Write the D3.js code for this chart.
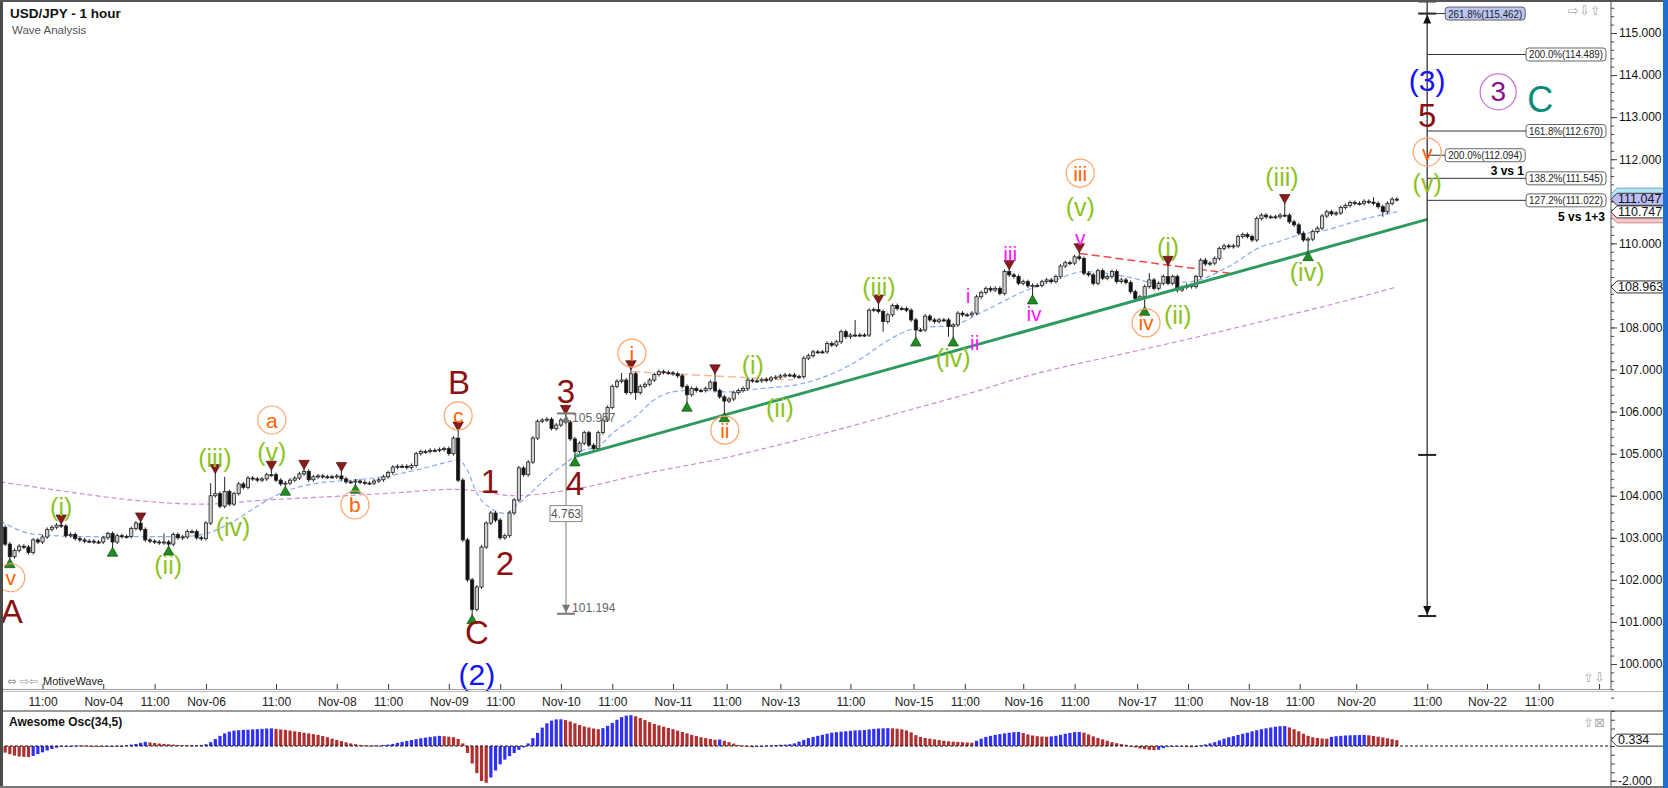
<!DOCTYPE html>
<html>
<head>
<meta charset="utf-8">
<script src="https://cdn.jsdelivr.net/npm/d3@7"></script>
<style>
html, body { margin: 0; padding: 0; background: #fff; overflow: hidden; }
svg { display: block; font-family: Arial, "Liberation Sans", sans-serif; }
</style>
</head>
<body>
<div id="chart"></div>
<script>
// hourly closes, bar 0 = Nov-03 02:00 (open of bar i = close of bar i-1)
const firstOpen = 103.35;
const closes = [
  103.25,102.85,102.55,102.70,102.80,102.78,102.65,102.95,102.90,103.02,
  103.20,103.25,103.30,103.28,103.05,103.08,102.98,102.95,102.92,102.92,
  102.90,102.90,103.00,103.10,102.90,103.05,103.03,103.03,103.22,103.35,
  103.20,102.95,102.92,102.90,102.88,102.90,102.85,103.08,103.00,103.02,
  103.15,103.15,103.00,102.98,103.35,104.00,104.05,103.75,104.10,103.80,
  104.05,104.28,104.20,104.42,104.40,104.37,104.40,104.50,104.50,104.37,
  104.28,104.30,104.37,104.42,104.52,104.58,104.38,104.45,104.47,104.45,
  104.45,104.45,104.47,104.40,104.33,104.33,104.35,104.32,104.30,104.30,
  104.35,104.38,104.45,104.55,104.68,104.70,104.70,104.67,104.72,105.00,
  105.05,105.05,105.08,105.08,105.10,105.12,105.00,105.37,104.37,102.95,
  102.00,101.30,101.83,102.78,103.35,103.59,103.42,103.00,103.05,103.59,
  103.90,104.66,104.50,104.80,105.37,105.77,105.80,105.82,105.60,105.68,
  105.80,105.75,105.35,105.05,105.25,105.50,105.20,105.12,105.50,105.80,
  106.10,106.60,106.72,106.75,106.45,106.90,106.45,106.60,106.65,106.75,
  106.88,106.95,106.93,106.92,106.90,106.85,106.60,106.40,106.55,106.50,
  106.50,106.55,106.70,106.50,106.35,106.25,106.30,106.45,106.50,106.55,
  106.75,106.73,106.73,106.76,106.75,106.80,106.82,106.85,106.87,106.87,
  106.83,106.83,107.27,107.33,107.42,107.42,107.42,107.62,107.58,107.66,
  107.90,107.78,107.82,107.82,107.82,107.82,108.41,108.43,108.38,108.14,
  108.30,108.52,108.45,108.45,108.41,108.18,107.94,107.94,108.27,108.18,
  108.14,108.18,108.18,108.02,108.06,108.34,108.30,108.30,108.34,108.73,
  108.83,108.93,108.89,108.93,108.81,109.33,109.25,109.21,109.05,109.09,
  108.99,109.00,109.00,109.09,109.13,109.09,109.21,109.46,109.54,109.53,
  109.68,109.64,109.29,109.25,109.05,109.35,109.17,109.21,109.33,109.09,
  109.13,109.07,108.85,108.69,108.73,108.97,109.13,108.93,109.05,109.21,
  109.05,109.21,108.89,108.95,109.00,108.97,109.21,109.60,109.51,109.53,
  109.64,109.88,109.94,109.92,109.94,110.16,110.21,110.16,110.08,110.59,
  110.67,110.63,110.63,110.63,110.67,110.67,110.51,110.44,110.24,110.08,
  110.10,110.28,110.36,110.65,110.75,110.70,110.72,110.85,110.90,110.97,
  110.95,110.95,111.00,110.98,110.95,110.87,110.75,110.95,111.05,111.047
];

// swing highs / lows marked with triangles [bar, price]
const peakMarks = [[13,103.35],[30,103.40],[46,104.55],[58,104.63],[65,104.65],[73,104.60],
  [98,105.56],[121,105.957],[135,107.02],[153,106.92],[188,108.58],[216,109.40],[231,109.80],
  [250,109.50],[275,110.97]];
const troughMarks = [[2,102.48],[24,102.75],[36,102.78],[61,104.20],[76,104.25],[101,101.15],
  [123,104.90],[147,106.20],[155,105.95],[196,107.75],[204,107.75],[221,108.75],[245,108.48],
  [280,109.78]];
// other long wicks [bar, price]
const extraHighs = [[35,103.10],[45,104.30],[48,104.45],[133,106.92],[183,108.18],[246,109.29],[294,111.10]];
const extraLows = [[136,106.28],[189,107.90],[203,107.78],[252,108.83],[296,110.63]];

// moving averages read at [bar, price]
const fastMA = [[0,103.40],[7,103.09],[18,103.03],[28,103.03],[39,103.03],[44,103.10],[50,103.40],
  [55,103.75],[60,104.06],[68,104.30],[75,104.37],[82,104.45],[89,104.61],[95,104.78],[98,104.85],
  [100,104.60],[102,104.06],[105,103.70],[108,103.58],[111,103.82],[115,104.22],[118,104.53],
  [121,104.77],[124,105.05],[128,105.17],[131,105.48],[136,105.88],[140,106.28],[144,106.47],
  [149,106.51],[156,106.47],[163,106.55],[171,106.65],[177,106.85],[185,107.31],[189,107.62],
  [196,107.98],[204,108.06],[211,108.41],[219,108.85],[226,109.13],[232,109.33],[241,109.21],
  [248,109.05],[255,109.09],[263,109.45],[270,109.92],[274,110.05],[278,110.20],[284,110.32],
  [291,110.55],[299,110.747]];
const slowMA = [[0,104.33],[14,104.10],[28,103.90],[43,103.80],[57,103.90],[71,103.98],[86,104.08],
  [96,104.15],[100,104.14],[110,104.00],[124,104.18],[138,104.53],[153,104.85],[171,105.33],
  [182,105.65],[195,106.05],[208,106.45],[218,106.79],[241,107.39],[255,107.74],[270,108.14],
  [283,108.49],[299,108.963]];

// trend / channel lines [bar, price]
const trendLine = [[123,104.93],[305.5,110.57]];
const orangeDash = [[135.2,106.95],[169.7,106.75]];
const redDash = [[231.1,109.76],[263.2,109.29]];

// Awesome Oscillator (34,5), one value per bar
const ao = [
  -0.30,-0.38,-0.47,-0.55,-0.60,-0.62,-0.63,-0.57,-0.46,-0.36,
  -0.26,-0.17,-0.10,-0.05,-0.02,0.00,0.02,0.03,0.02,0.01,
  -0.02,-0.03,-0.04,-0.03,-0.02,-0.03,0.00,0.04,0.08,0.12,
  0.18,0.24,0.20,0.17,0.14,0.12,0.10,0.08,0.06,0.05,
  0.04,0.05,0.04,0.06,0.10,0.22,0.40,0.58,0.72,0.82,
  0.88,0.90,0.92,0.93,0.95,0.96,0.98,1.00,1.01,0.98,
  0.95,0.92,0.88,0.84,0.80,0.76,0.72,0.68,0.63,0.57,
  0.50,0.42,0.35,0.28,0.21,0.15,0.10,0.06,0.04,0.02,
  0.03,0.02,0.05,0.08,0.12,0.18,0.24,0.29,0.34,0.39,
  0.44,0.48,0.52,0.55,0.58,0.56,0.53,0.50,0.40,0.15,
  -0.40,-1.00,-1.55,-2.00,-2.10,-1.80,-1.40,-1.05,-0.78,-0.58,
  -0.40,-0.22,-0.08,0.15,0.45,0.75,1.05,1.30,1.45,1.52,
  1.53,1.48,1.40,1.30,1.20,1.12,1.06,1.00,0.96,1.02,
  1.15,1.32,1.50,1.65,1.74,1.76,1.70,1.60,1.48,1.36,
  1.26,1.18,1.10,1.03,0.96,0.88,0.80,0.72,0.64,0.57,
  0.50,0.45,0.40,0.36,0.37,0.30,0.22,0.14,0.06,0.02,
  -0.05,-0.07,-0.04,-0.01,0.02,0.03,0.05,0.07,0.08,0.10,
  0.15,0.25,0.35,0.45,0.52,0.58,0.64,0.70,0.76,0.79,
  0.82,0.84,0.87,0.89,0.90,0.91,0.95,0.98,1.00,1.01,
  1.02,1.01,0.99,0.95,0.89,0.78,0.62,0.52,0.46,0.42,
  0.38,0.34,0.30,0.27,0.25,0.23,0.22,0.20,0.19,0.30,
  0.42,0.52,0.58,0.64,0.68,0.72,0.76,0.79,0.80,0.74,
  0.66,0.60,0.56,0.54,0.53,0.55,0.58,0.64,0.70,0.75,
  0.79,0.80,0.76,0.66,0.55,0.46,0.38,0.30,0.22,0.16,
  0.11,0.07,0.00,-0.08,-0.14,-0.18,-0.22,-0.24,-0.21,-0.12,
  -0.05,-0.02,0.00,-0.03,-0.06,-0.07,0.00,0.04,0.09,0.15,
  0.22,0.32,0.42,0.50,0.56,0.63,0.70,0.76,0.84,0.90,
  0.96,1.01,1.06,1.10,1.13,1.14,1.06,0.96,0.84,0.70,
  0.58,0.50,0.46,0.43,0.42,0.52,0.56,0.58,0.60,0.61,
  0.62,0.625,0.63,0.61,0.57,0.53,0.49,0.44,0.39,0.334
];

// time axis
const tickBars = [9,22,33,44,59,72,83,96,107,120,131,144,155.5,167,182,195.5,206.5,219,230,243.4,254.3,267.3,278.2,290.3,305.5,318.3,329.4,342.3];
const tickLabels = ["11:00","Nov-04","11:00","Nov-06","11:00","Nov-08","11:00","Nov-09","11:00","Nov-10",
  "11:00","Nov-11","11:00","Nov-13","11:00","Nov-15","11:00","Nov-16","11:00","Nov-17","11:00","Nov-18",
  "11:00","Nov-20","11:00","Nov-22","11:00",""];

// wave labels [text, bar, price]
const maroonLabels = [["A",2.4,101.24],["B",98.2,106.68],["C",102,100.74],["1",104.8,104.33],
  ["2",108,102.40],["3",121.1,106.47],["4",123,104.30],["5",305.5,113.05]];
const blueLabels = [["(2)",102,99.74],["(3)",305.5,113.88]];
const greenLabels = [["(i)",13,103.73],["(ii)",35.9,102.35],["(iii)",45.9,104.90],["(iv)",49.8,103.26],
  ["(v)",58.1,105.04],["(i)",161.1,107.11],["(ii)",166.9,106.09],["(iii)",188.1,108.96],
  ["(iv)",204,107.27],["(v)",231.2,110.86],["(i)",250,109.91],["(ii)",252.1,108.30],
  ["(iii)",274.4,111.58],["(iv)",279.8,109.32],["(v)",305.5,111.43]];
const orangeLabels = [["v",2.2,102.05],["a",58.1,105.80],["b",75.9,103.78],["c",98,105.90],
  ["i",135.2,107.39],["ii",155.1,105.56],["iii",231.2,111.67],["iv",245.3,108.11],["v",305.5,112.17]];
const magentaLabels = [["i",207.2,108.77],["ii",208.6,107.65],["iii",216.2,109.77],["iv",221.3,108.34],["v",231.2,110.15]];
const purpleLabels = [["3",320.7,113.60]];
const tealLabels = [["C",329.7,113.41]];

// fibonacci projection
const fibBar = 305.5;
const fibLevels = [115.462,114.489,112.670,112.094,111.545,111.022];
const fibPcts = ["261.8%","200.0%","161.8%","200.0%","138.2%","127.2%"];
const fibShort = [true,false,false,true,false,false];
const fibTop = 115.75, fibMid = 104.97, fibBottom = 101.14;

// wave 1 measurement
const measureBar = 121.1;
const measureTop = 105.957, measureBottom = 101.194, measureSize = "4.763";

// right axis price flags
const lastPrice = 111.047, fastLast = 110.747, slowLast = 108.963;
const barHigh = 111.17, barLow = 110.63;

// ---------------------------------------------------------------
const W = 1668, H = 788;
const axisX = 1611, mainBottom = 689, oscTop = 712;

const x = d3.scaleLinear().domain([0, 345]).range([0.5, 0.5 + 345 * 4.67]);
const y = d3.scaleLinear().domain([100, 115]).range([664, 33]);
const yo = d3.scaleLinear().domain([-2, 0]).range([781, 746]);
const fmt = d3.format(".3f");

const svg = d3.select("#chart").append("svg")
    .attr("width", W).attr("height", H);

svg.append("rect").attr("width", W).attr("height", H).attr("fill", "#fff");

svg.append("clipPath").attr("id", "mainClip")
  .append("rect").attr("x", 0).attr("y", 0).attr("width", axisX).attr("height", mainBottom);

const main = svg.append("g").attr("clip-path", "url(#mainClip)");

// moving averages
const line = d3.line().x(d => x(d[0])).y(d => y(d[1])).curve(d3.curveMonotoneX);
main.append("path").attr("d", line(slowMA)).attr("fill", "none")
    .attr("stroke", "#d08ad0").attr("stroke-width", 1.2).attr("stroke-dasharray", "5,3");
main.append("path").attr("d", line(fastMA)).attr("fill", "none")
    .attr("stroke", "#88a8f4").attr("stroke-width", 1.2).attr("stroke-dasharray", "5,3");

// dashed helper lines
const straight = d3.line().x(d => x(d[0])).y(d => y(d[1]));
main.append("path").attr("d", straight(orangeDash)).attr("fill", "none")
    .attr("stroke", "#f7b896").attr("stroke-width", 1.5).attr("stroke-dasharray", "8,4");
main.append("path").attr("d", straight(redDash)).attr("fill", "none")
    .attr("stroke", "#f04848").attr("stroke-width", 1.5).attr("stroke-dasharray", "8,4");

// candles
const hiMap = new Map(peakMarks.concat(extraHighs));
const loMap = new Map(troughMarks.concat(extraLows));
const candles = closes.map((c, i) => ({ i, o: i === 0 ? firstOpen : closes[i - 1], c }));

const cg = main.append("g");
cg.selectAll("line.wick").data(candles).join("line")
    .attr("class", "wick")
    .attr("x1", d => x(d.i)).attr("x2", d => x(d.i))
    .attr("y1", d => hiMap.has(d.i) ? y(hiMap.get(d.i)) : y(Math.max(d.o, d.c)) - 2)
    .attr("y2", d => loMap.has(d.i) ? y(loMap.get(d.i)) : y(Math.min(d.o, d.c)) + 2)
    .attr("stroke", "#222").attr("stroke-width", 1);
cg.selectAll("rect.body").data(candles).join("rect")
    .attr("class", "body")
    .attr("x", d => x(d.i) - 1.6)
    .attr("width", 3.2)
    .attr("y", d => y(Math.max(d.o, d.c)))
    .attr("height", d => Math.max(1, Math.abs(y(d.o) - y(d.c))))
    .attr("fill", d => d.c > d.o ? "#cfcfcf" : "#111")
    .attr("stroke", "#222").attr("stroke-width", 0.8);

// trend line
main.append("path").attr("d", straight(trendLine)).attr("fill", "none")
    .attr("stroke", "#2f9a60").attr("stroke-width", 3);

// swing markers
const tri = d3.symbol().type(d3.symbolTriangle).size(48);
main.selectAll("path.peak").data(peakMarks).join("path")
    .attr("class", "peak").attr("d", tri)
    .attr("transform", d => `translate(${x(d[0])},${y(d[1]) - 5}) rotate(180)`)
    .attr("fill", "#8c1a1a").attr("stroke", "#3a0a0a").attr("stroke-width", 0.6);
main.selectAll("path.trough").data(troughMarks).join("path")
    .attr("class", "trough").attr("d", tri)
    .attr("transform", d => `translate(${x(d[0])},${y(d[1]) + 5})`)
    .attr("fill", "#1f8c1f").attr("stroke", "#0a3a0a").attr("stroke-width", 0.6);

// wave 1 measurement tool
const mx = x(measureBar);
const mg = main.append("g").attr("stroke", "#777").attr("fill", "#777");
mg.append("line").attr("x1", mx).attr("x2", mx).attr("y1", y(measureTop)).attr("y2", y(measureBottom));
mg.append("line").attr("x1", mx - 9).attr("x2", mx + 9).attr("y1", y(measureTop)).attr("y2", y(measureTop)).attr("stroke-width", 2);
mg.append("line").attr("x1", mx - 9).attr("x2", mx + 9).attr("y1", y(measureBottom)).attr("y2", y(measureBottom)).attr("stroke-width", 2);
mg.append("path").attr("d", `M${mx},${y(measureTop) + 1} l-4,8 h8 z`).attr("stroke", "none");
mg.append("path").attr("d", `M${mx},${y(measureBottom) - 1} l-4,-8 h8 z`).attr("stroke", "none");
main.append("text").attr("x", mx + 6).attr("y", y(measureTop) + 9)
    .attr("font-size", 12).attr("fill", "#666").text(fmt(measureTop));
main.append("text").attr("x", mx + 6).attr("y", y(measureBottom) - 2)
    .attr("font-size", 12).attr("fill", "#666").text(fmt(measureBottom));
const midM = (measureTop + measureBottom) / 2;
main.append("rect").attr("x", mx - 16).attr("y", y(midM) - 8).attr("width", 32).attr("height", 16)
    .attr("fill", "#fff").attr("stroke", "#888");
main.append("text").attr("x", mx).attr("y", y(midM)).attr("text-anchor", "middle")
    .attr("dominant-baseline", "central").attr("font-size", 12).attr("fill", "#555").text(measureSize);

// fibonacci projection
const fx = x(fibBar);
const fg = svg.append("g");
fg.append("line").attr("x1", fx).attr("x2", fx).attr("y1", y(fibTop)).attr("y2", y(fibBottom))
    .attr("stroke", "#333").attr("stroke-width", 1.3);
[fibTop, fibLevels[0], fibMid, fibBottom].forEach(v => {
  fg.append("line").attr("x1", fx - 9).attr("x2", fx + 9).attr("y1", y(v)).attr("y2", y(v))
      .attr("stroke", "#222").attr("stroke-width", 2);
});
fg.append("path").attr("d", `M${fx},${y(fibLevels[0]) + 1} l-4,9 h8 z`).attr("fill", "#111");
fg.append("path").attr("d", `M${fx},${y(fibBottom) - 1} l-4,-9 h8 z`).attr("fill", "#111");
fibLevels.forEach((v, k) => {
  const bx = fibShort[k] ? fx + 18 : 1526;
  fg.append("line").attr("x1", fx).attr("x2", bx).attr("y1", y(v)).attr("y2", y(v))
      .attr("stroke", "#333").attr("stroke-width", 1);
  fg.append("rect").attr("x", bx).attr("y", y(v) - 6.5).attr("width", 80).attr("height", 13)
      .attr("rx", 3).attr("fill", k === 0 ? "#bac5f2" : "#fff").attr("stroke", "#666");
  fg.append("text").attr("x", bx + 40).attr("y", y(v)).attr("text-anchor", "middle")
      .attr("dominant-baseline", "central").attr("font-size", 11).attr("fill", "#222")
      .attr("textLength", 74).attr("lengthAdjust", "spacingAndGlyphs")
      .text(`${fibPcts[k]}(${fmt(v)})`);
});
fg.append("text").attr("x", 1524).attr("y", y(fibLevels[4]) - 3).attr("text-anchor", "end")
    .attr("font-size", 12).attr("font-weight", "bold").text("3 vs 1");
fg.append("text").attr("x", 1605).attr("y", y(fibLevels[5]) + 21).attr("text-anchor", "end")
    .attr("font-size", 12).attr("font-weight", "bold").text("5 vs 1+3");

// wave labels
const lg = svg.append("g").attr("text-anchor", "middle").attr("dominant-baseline", "central");
function labels(arr, color, size) {
  arr.forEach(d => {
    lg.append("text").attr("x", x(d[1])).attr("y", y(d[2]))
        .attr("fill", color).attr("font-size", size).text(d[0]);
  });
}
orangeLabels.forEach(d => {
  lg.append("circle").attr("cx", x(d[1])).attr("cy", y(d[2])).attr("r", 14)
      .attr("fill", "none").attr("stroke", "#ffa366").attr("stroke-width", 1.2);
});
purpleLabels.forEach(d => {
  lg.append("circle").attr("cx", x(d[1])).attr("cy", y(d[2])).attr("r", 18)
      .attr("fill", "none").attr("stroke", "#cf78cf").attr("stroke-width", 1.3);
});
labels(maroonLabels, "#8b1010", 33);
labels(blueLabels, "#1414f0", 30);
labels(greenLabels, "#8cc21c", 25);
labels(orangeLabels, "#ff6200", 21);
labels(magentaLabels, "#ff14ff", 21);
labels(purpleLabels, "#8b108b", 28);
labels(tealLabels, "#0a8a7a", 36);

// right price axis; labels that sit under a price flag are not shown
const flagged = [lastPrice, fastLast, slowLast];
svg.append("line").attr("x1", axisX).attr("x2", axisX).attr("y1", 0).attr("y2", mainBottom + 1)
    .attr("stroke", "#555");
const yAxis = d3.axisRight(y).tickValues(d3.range(100, 116, 1)).tickSize(6).tickPadding(2)
    .tickFormat(d => flagged.some(f => Math.abs(y(f) - y(d)) < 10) ? "" : fmt(d));
const ya = svg.append("g").attr("transform", `translate(${axisX},0)`).call(yAxis);
ya.select(".domain").remove();
ya.selectAll("text").attr("font-size", 12).attr("font-family", "Arial, 'Liberation Sans', sans-serif").attr("fill", "#111");
ya.selectAll("line").attr("stroke", "#444");
const yMinor = d3.axisRight(y).tickValues(d3.range(99.2, 115.9, 0.2)).tickSize(3).tickFormat("");
const ym = svg.append("g").attr("transform", `translate(${axisX},0)`).call(yMinor);
ym.select(".domain").remove();
ym.selectAll("line").attr("stroke", "#444");

function flag(v, fill, scale, stroke, withText) {
  const yc = scale(v);
  const g = svg.append("g");
  g.append("path").attr("d", `M${axisX},${yc} L${axisX + 6},${yc - 6} H${1665} V${yc + 6} H${axisX + 6} Z`)
      .attr("fill", fill).attr("stroke", stroke || "#333").attr("stroke-width", 1);
  if (withText !== false) {
    g.append("text").attr("x", axisX + 7).attr("y", yc).attr("dominant-baseline", "central")
        .attr("font-size", 12.5).attr("fill", "#111").text(fmt(v));
  }
}
// high / low flags peek out from behind the price flags
flag(barHigh, "#b6e6f6", y, "#7ab", false);
flag(barLow, "#f7c6c6", y, "#c88", false);
flag(slowLast, "#fff", y);
flag(fastLast, "#fff", y);
flag(lastPrice, "#bcbcf6", y);

// time axis
svg.append("line").attr("x1", 0).attr("x2", axisX).attr("y1", mainBottom + 0.5).attr("y2", mainBottom + 0.5)
    .attr("stroke", "#999");
svg.append("line").attr("x1", 0).attr("x2", W).attr("y1", mainBottom + 2.5).attr("y2", mainBottom + 2.5)
    .attr("stroke", "#bbb");
const xAxis = d3.axisBottom(x).tickValues(tickBars).tickSizeInner(-5).tickSizeOuter(0).tickPadding(8)
    .tickFormat((d, i) => tickLabels[i]);
const xa = svg.append("g").attr("transform", `translate(0,${mainBottom})`).call(xAxis);
xa.select(".domain").remove();
xa.selectAll("line").attr("stroke", "#333");
xa.selectAll("text").attr("font-size", 12).attr("font-family", "Arial, 'Liberation Sans', sans-serif").attr("fill", "#222");

// panel separator
svg.append("rect").attr("x", 0).attr("y", oscTop - 2).attr("width", W).attr("height", 2).attr("fill", "#9a9a9a");

// oscillator
const og = svg.append("g");
og.selectAll("rect").data(ao).join("rect")
    .attr("x", (d, i) => x(i) - 1.6).attr("width", 3.2)
    .attr("y", d => Math.min(yo(0), yo(d)))
    .attr("height", d => Math.max(0.8, Math.abs(yo(d) - yo(0))))
    .attr("fill", (d, i) => i > 0 && d > ao[i - 1] ? "#2f2ff5" : "#b03030");
og.append("line").attr("x1", 0).attr("x2", axisX).attr("y1", yo(0)).attr("y2", yo(0))
    .attr("stroke", "#111").attr("stroke-dasharray", "3,2");
svg.append("line").attr("x1", axisX).attr("x2", axisX).attr("y1", oscTop).attr("y2", H)
    .attr("stroke", "#555");
const oAxis = d3.axisRight(yo).tickValues(d3.range(-2, 2.1, 0.5)).tickSize(4).tickFormat("");
const oa = svg.append("g").attr("transform", `translate(${axisX},0)`).call(oAxis);
oa.select(".domain").remove();
oa.selectAll("line").attr("stroke", "#444");
svg.append("line").attr("x1", axisX).attr("x2", axisX + 6).attr("y1", yo(-2)).attr("y2", yo(-2)).attr("stroke", "#444");
svg.append("text").attr("x", axisX + 7).attr("y", yo(-2)).attr("dominant-baseline", "central")
    .attr("font-size", 12).attr("fill", "#111").text("-2.000");
flag(ao[ao.length - 1], "#fff", yo);
svg.append("text").attr("x", 9).attr("y", 726).attr("font-size", 12).attr("font-weight", "bold")
    .attr("fill", "#111").text("Awesome Osc(34,5)");

// titles and small chrome
svg.append("text").attr("x", 10).attr("y", 18).attr("font-size", 13.5).attr("font-weight", "bold")
    .attr("fill", "#111").text("USD/JPY - 1 hour");
svg.append("text").attr("x", 12).attr("y", 34).attr("font-size", 11.5).attr("fill", "#555").text("Wave Analysis");
svg.append("text").attr("x", 7).attr("y", 685).attr("font-size", 11).attr("fill", "#999")
    .attr("font-family", "DejaVu Sans").text("\u21d4 \u21e8\u21e6");
svg.append("text").attr("x", 43).attr("y", 685).attr("font-size", 11).attr("fill", "#222").text("MotiveWave");
svg.append("text").attr("x", 1568).attr("y", 15).attr("font-size", 13).attr("fill", "#aaa")
    .attr("font-family", "DejaVu Sans").text("\u21e8\u21e9\u21e7");
svg.append("text").attr("x", 1583).attr("y", 682).attr("font-size", 13).attr("fill", "#aaa")
    .attr("font-family", "DejaVu Sans").text("\u21e7\u21e9");
svg.append("text").attr("x", 1583).attr("y", 727).attr("font-size", 13).attr("fill", "#aaa")
    .attr("font-family", "DejaVu Sans").text("\u21e7\u22a0");

// frame
svg.append("rect").attr("x", 0).attr("y", 0).attr("width", 3).attr("height", H).attr("fill", "#4a4a4a");
svg.append("rect").attr("x", 0).attr("y", 0).attr("width", W).attr("height", 2).attr("fill", "#555");
svg.append("rect").attr("x", 0).attr("y", H - 2).attr("width", W).attr("height", 2).attr("fill", "#777");
svg.append("rect").attr("x", 1663).attr("y", 0).attr("width", 5).attr("height", H).attr("fill", "#1f6fd1");
</script>
</body>
</html>
